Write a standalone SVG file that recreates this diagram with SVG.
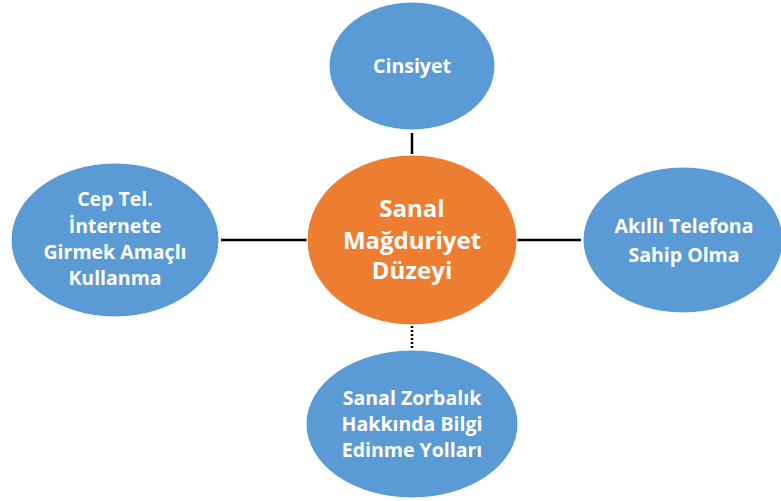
<svg xmlns="http://www.w3.org/2000/svg" width="781" height="501" viewBox="0 0 781 501">
<style>
.blue{fill:#5B9BD5;stroke:#ffffff;stroke-width:1}
.orange{fill:#ED7D31;stroke:#ffffff;stroke-width:1}
.t{fill:#ffffff;font-family:"Open Sans","Liberation Sans",sans-serif;font-weight:bold;font-size:19.5px;text-anchor:middle}
.tc{fill:#ffffff;font-family:"Open Sans","Liberation Sans",sans-serif;font-weight:bold;font-size:24px;text-anchor:middle}
.ln{stroke:#000000;stroke-width:2.5;fill:none}
.dot{stroke:#000000;stroke-width:2.5;fill:none;stroke-dasharray:2 2}
</style>
<rect width="781" height="501" fill="#ffffff"/>
<g id="connectors">
<line class="ln" x1="412" y1="133" x2="412" y2="154"/>
<line class="ln" x1="221" y1="240" x2="307" y2="240"/>
<line class="ln" x1="517" y1="240" x2="581" y2="240"/>
<line class="dot" x1="412" y1="326" x2="412" y2="348"/>
</g>
<g id="cinsiyet">
<ellipse class="blue" cx="412" cy="66" rx="83" ry="64"/>
<text class="t" x="412" y="73">Cinsiyet</text>
</g>
<g id="center">
<ellipse class="orange" cx="412" cy="240" rx="105" ry="85"/>
<text class="tc" x="412" y="217">Sanal</text>
<text class="tc" x="412" y="249">Mağduriyet</text>
<text class="tc" x="412" y="279">Düzeyi</text>
</g>
<g id="cep">
<ellipse class="blue" cx="115" cy="240" rx="104" ry="77"/>
<text class="t" x="115" y="206">Cep Tel.</text>
<text class="t" x="115" y="233">İnternete</text>
<text class="t" x="115" y="259">Girmek Amaçlı</text>
<text class="t" x="115" y="285">Kullanma</text>
</g>
<g id="akilli">
<ellipse class="blue" cx="683" cy="240" rx="100" ry="73"/>
<text class="t" x="684" y="233">Akıllı Telefona</text>
<text class="t" x="684" y="262">Sahip Olma</text>
</g>
<g id="bilgi">
<ellipse class="blue" cx="412" cy="424" rx="106" ry="74"/>
<text class="t" x="412" y="405">Sanal Zorbalık</text>
<text class="t" x="412" y="431">Hakkında Bilgi</text>
<text class="t" x="412" y="457">Edinme Yolları</text>
</g>
</svg>
